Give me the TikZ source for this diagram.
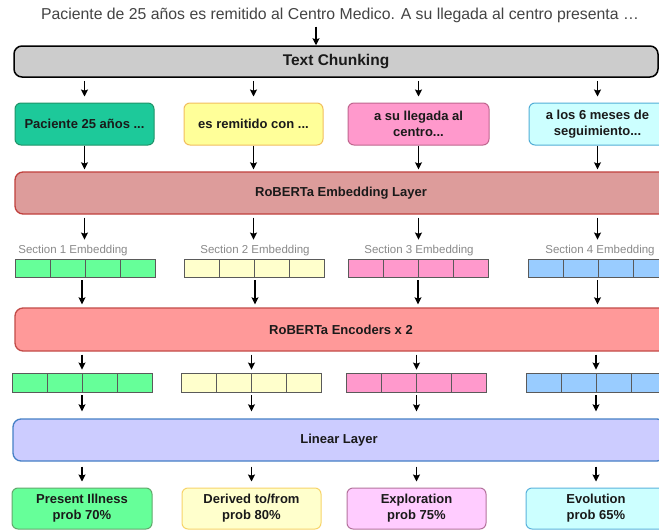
\documentclass[tikz,border=0pt]{standalone}
\usepackage{fontspec}
\setmainfont{Liberation Sans}
\usetikzlibrary{arrows.meta,calc}
\definecolor{titlegray}{HTML}{444444}
\definecolor{labgray}{HTML}{8A8A8A}
\definecolor{txt}{HTML}{1A1A1A}
\definecolor{chunkfill}{HTML}{CCCCCC}
\definecolor{caF}{HTML}{1DC99A}\definecolor{caD}{HTML}{1E9468}
\definecolor{cbF}{HTML}{FFFF99}\definecolor{cbD}{HTML}{F2BE5E}
\definecolor{ccF}{HTML}{FF99CC}\definecolor{ccD}{HTML}{C0668F}
\definecolor{cdF}{HTML}{CCFFFF}\definecolor{cdD}{HTML}{52AED6}
\definecolor{embF}{HTML}{DD9C9B}\definecolor{embD}{HTML}{C0403D}
\definecolor{encF}{HTML}{FF9999}\definecolor{encD}{HTML}{C24B48}
\definecolor{linF}{HTML}{CCCCFF}\definecolor{linD}{HTML}{4680C6}
\definecolor{sgF}{HTML}{66FF99}
\definecolor{syF}{HTML}{FFFFCC}
\definecolor{spF}{HTML}{FF99CC}
\definecolor{sbF}{HTML}{99CCFF}
\definecolor{stripD}{HTML}{5A5A5A}
\definecolor{oaF}{HTML}{66FF99}\definecolor{oaD}{HTML}{62A86C}
\definecolor{obF}{HTML}{FFFFCC}\definecolor{obD}{HTML}{F7D46A}
\definecolor{ocF}{HTML}{FFCCFF}\definecolor{ocD}{HTML}{B5739D}
\definecolor{odF}{HTML}{CCFFFF}\definecolor{odD}{HTML}{5BB3DC}
\tikzset{
  arr/.style={line width=1.2pt, -{Stealth[length=7pt,width=7pt,inset=1.2pt]}},
  boxtext/.style={font=\fontsize{13}{16}\selectfont\bfseries, text=txt, align=center},
  chunkbox/.style={boxtext, rounded corners=6pt, line width=1pt, minimum width=139pt, minimum height=42pt, inner sep=0pt},
  layer/.style={boxtext, rounded corners=8pt, line width=1.3pt, minimum height=42pt, inner sep=0pt},
  outbox/.style={boxtext, rounded corners=6pt, line width=1pt, minimum width=140pt, minimum height=41pt, inner sep=0pt},
  seclab/.style={font=\fontsize{11.5}{13}\selectfont, text=labgray, inner sep=0pt},
  strip/.style={draw=stripD, line width=0.9pt, minimum width=140pt, inner sep=0pt,
    path picture={\foreach \f in {0.25,0.5,0.75}{\draw[stripD, line width=0.9pt]
      ($(path picture bounding box.south west)!\f!(path picture bounding box.south east)$) --
      ($(path picture bounding box.north west)!\f!(path picture bounding box.north east)$);}}},
}
\begin{document}
\begin{tikzpicture}[x=1pt,y=-1pt]
\useasboundingbox (0,0) rectangle (659,530);
\clip (0,0) rectangle (659,530);
\fill[white] (0,0) rectangle (659,530);

\node[font=\fontsize{15.8}{18}\selectfont, text=titlegray, inner sep=0pt] (title) at (340,15) {Paciente de 25 años es remitido al Centro Medico. A su llegada al centro presenta …};
\coordinate (tx) at (316,0);

\node[boxtext, font=\fontsize{15.5}{18}\selectfont\bfseries, draw=black, fill=chunkfill, line width=1.5pt, rounded corners=8pt, minimum width=644pt, minimum height=31pt, inner sep=0pt] (chunk) at (336,61.5) {Text Chunking};

\node[chunkbox, draw=caD, fill=caF] (c1) at (84.5,124) {Paciente 25 años ...};
\node[chunkbox, draw=cbD, fill=cbF] (c2) at (253.5,124) {es remitido con ...};
\node[chunkbox, draw=ccD, fill=ccF, minimum width=141pt] (c3) at (418.5,124) {a su llegada al\\centro...};
\node[chunkbox, draw=cdD, fill=cdF, minimum width=137pt] (c4) at (597.5,124) {a los 6 meses de\\seguimiento...};

\node[layer, draw=embD, fill=embF, minimum width=652pt] (emb) at (341,193) {RoBERTa Embedding Layer};

\node[seclab] (l1) at (73,251) {Section 1 Embedding};
\node[seclab] (l2) at (255,251) {Section 2 Embedding};
\node[seclab] (l3) at (419,251) {Section 3 Embedding};
\node[seclab] (l4) at (600,251) {Section 4 Embedding};

\node[strip, fill=sgF, minimum height=18pt] (s1) at (85,268) {};
\node[strip, fill=syF, minimum height=18pt] (s2) at (254,268) {};
\node[strip, fill=spF, minimum height=18pt] (s3) at (418,268) {};
\node[strip, fill=sbF, minimum height=18pt] (s4) at (598,268) {};

\node[layer, draw=encD, fill=encF, minimum width=652pt, minimum height=43pt] (enc) at (341,329.5) {RoBERTa Encoders x 2};

\node[strip, fill=sgF, minimum height=19pt] (t1) at (82,382.5) {};
\node[strip, fill=syF, minimum height=19pt] (t2) at (251.5,382.5) {};
\node[strip, fill=spF, minimum height=19pt] (t3) at (416,382.5) {};
\node[strip, fill=sbF, minimum height=19pt] (t4) at (596,382.5) {};

\node[layer, draw=linD, fill=linF, minimum width=652pt] (lin) at (339,440) {Linear Layer};

\node[outbox, draw=oaD, fill=oaF] (o1) at (82,508.5) {Present Illness\\prob 70\%};
\node[outbox, draw=obD, fill=obF, minimum width=139pt] (o2) at (251.5,508.5) {Derived to/from\\prob 80\%};
\node[outbox, draw=ocD, fill=ocF, minimum width=139pt] (o3) at (416.5,508.5) {Exploration\\prob 75\%};
\node[outbox, draw=odD, fill=odF] (o4) at (596,508.5) {Evolution\\prob 65\%};

% connectors
\draw[arr, shorten <=4pt] (title.south -| tx) -- (chunk.north -| tx);
\foreach \i in {1,2,3,4}{
  \draw[arr, shorten <=3pt, shorten >=6pt] (chunk.south -| c\i) -- (c\i.north);
  \draw[arr, shorten >=2pt] (c\i.south) -- (emb.north -| c\i);
  \draw[arr, shorten <=3pt, shorten >=19pt] (emb.south -| c\i) -- (s\i.north -| c\i);
}
\draw[arr, shorten <=3pt, shorten >=3pt] (s1.south -| t1) -- (enc.north -| t1);
\draw[arr, shorten <=3pt, shorten >=3pt] (s2.south -| l2) -- (enc.north -| l2);
\draw[arr, shorten <=3pt, shorten >=3pt] (s3.south) -- (enc.north -| s3);
\draw[arr, shorten <=3pt, shorten >=3pt] (s4.south -| c4) -- (enc.north -| c4);
\foreach \i in {1,2,3,4}{
  \draw[arr, shorten <=3pt, shorten >=3pt] (enc.south -| o\i) -- (t\i.north -| o\i);
  \draw[arr, shorten <=3pt, shorten >=7pt] (t\i.south -| o\i) -- (lin.north -| o\i);
  \draw[arr, shorten <=5pt, shorten >=6pt] (lin.south -| o\i) -- (o\i.north);
}
\end{tikzpicture}
\end{document}
